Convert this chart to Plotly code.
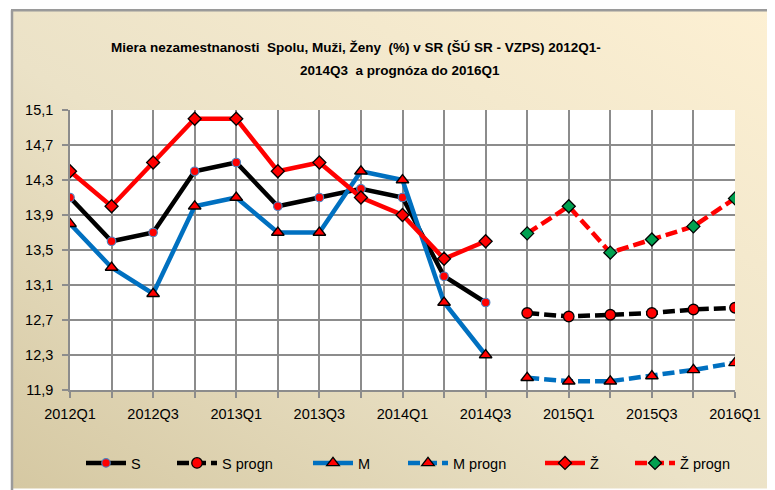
import base64
import plotly.graph_objects as go

# ---------------- data ----------------
categories = ["2012Q1", "2012Q2", "2012Q3", "2012Q4", "2013Q1", "2013Q2", "2013Q3", "2013Q4",
              "2014Q1", "2014Q2", "2014Q3", "2014Q4", "2015Q1", "2015Q2", "2015Q3", "2015Q4",
              "2016Q1"]
actual_periods = categories[:11]
forecast_periods = categories[11:]

s_values = [14.1, 13.6, 13.7, 14.4, 14.5, 14.0, 14.1, 14.2, 14.1, 13.2, 12.9]
s_progn = [12.78, 12.74, 12.76, 12.78, 12.82, 12.84]
m_values = [13.8, 13.3, 13.0, 14.0, 14.1, 13.7, 13.7, 14.4, 14.3, 12.9, 12.3]
m_progn = [12.04, 12.0, 12.0, 12.06, 12.13, 12.21]
z_values = [14.4, 14.0, 14.5, 15.0, 15.0, 14.4, 14.5, 14.1, 13.9, 13.4, 13.6]
z_progn = [13.69, 14.0, 13.47, 13.62, 13.77, 14.09]

tick_labels = categories[::2]
y_ticks = [11.9, 12.3, 12.7, 13.1, 13.5, 13.9, 14.3, 14.7, 15.1]

title_line1 = "Miera nezamestnanosti  Spolu, Muži, Ženy  (%) v SR (ŠÚ SR - VZPS) 2012Q1-"
title_line2 = "2014Q3  a prognóza do 2016Q1"

# ---------------- style ----------------
FONT = "Liberation Sans, Arial, sans-serif"
BLACK = "#000000"
BLUE = "#0070c0"
RED = "#ff0000"
GREEN = "#00a050"
GRID = "#8c8c8c"
LW = 4.5
DASH = "12px,5px"

OFF = 8  # page body margin
W, H = 775 - OFF, 490 - OFF
ML, MR, MT, MB = 70 - OFF, 40, 110 - OFF, 99
PW, PH = W - ML - MR, H - MT - MB


def px_x(px):
    """reference screenshot x pixel -> paper x"""
    return (px - OFF - ML) / PW


def px_y(py):
    """reference screenshot y pixel -> paper y"""
    return (H - MB - (py - OFF)) / PH


def keep_spaces(s):
    return s.replace("  ", "\u00a0\u00a0")


fig = go.Figure()

# legend slot (symbol-centre x in reference pixels) for each series
legend_x = {"S": 106, "S progn": 197, "M": 333, "M progn": 428, "Ž": 565, "Ž progn": 655}
legend_ids = {"S": "legend", "S progn": "legend2", "M": "legend3",
              "M progn": "legend4", "Ž": "legend5", "Ž progn": "legend6"}

fig.add_trace(go.Scatter(
    x=actual_periods, y=s_values, name="S", mode="lines+markers", legend=legend_ids["S"],
    line=dict(color=BLACK, width=LW),
    marker=dict(symbol="circle", size=8.5, color=RED, line=dict(color="#4f81bd", width=1.2))))
fig.add_trace(go.Scatter(
    x=forecast_periods, y=s_progn, name="S progn", mode="lines+markers", legend=legend_ids["S progn"],
    line=dict(color=BLACK, width=LW, dash=DASH),
    marker=dict(symbol="circle", size=10.5, color=RED, line=dict(color=BLACK, width=1.3))))
fig.add_trace(go.Scatter(
    x=actual_periods, y=m_values, name="M", mode="lines+markers", legend=legend_ids["M"],
    line=dict(color=BLUE, width=LW),
    marker=dict(symbol="triangle-up", size=11, color=RED, line=dict(color=BLACK, width=1.3))))
fig.add_trace(go.Scatter(
    x=forecast_periods, y=m_progn, name="M progn", mode="lines+markers", legend=legend_ids["M progn"],
    line=dict(color=BLUE, width=LW, dash=DASH),
    marker=dict(symbol="triangle-up", size=11, color=RED, line=dict(color=BLACK, width=1.3))))
fig.add_trace(go.Scatter(
    x=actual_periods, y=z_values, name="Ž", mode="lines+markers", legend=legend_ids["Ž"],
    line=dict(color=RED, width=LW),
    marker=dict(symbol="diamond", size=10, color=RED, line=dict(color=BLACK, width=1.3))))
fig.add_trace(go.Scatter(
    x=forecast_periods, y=z_progn, name="Ž progn", mode="lines+markers", legend=legend_ids["Ž progn"],
    line=dict(color=RED, width=LW, dash=DASH),
    marker=dict(symbol="diamond", size=10, color=GREEN, line=dict(color=BLACK, width=1.3))))

# background gradient (beige, darker at lower left)
svg = (
    '<svg xmlns="http://www.w3.org/2000/svg" width="763" height="480" viewBox="0 0 763 480" '
    'preserveAspectRatio="none">'
    '<defs><linearGradient id="g" x1="0" y1="1" x2="1" y2="0">'
    '<stop offset="0" stop-color="#d5c8a2"/>'
    '<stop offset="0.45" stop-color="#ebe2c7"/>'
    '<stop offset="1" stop-color="#fdf0d3"/>'
    '</linearGradient></defs>'
    '<rect width="763" height="480" fill="url(#g)"/></svg>'
)
src = "data:image/svg+xml;base64," + base64.b64encode(svg.encode()).decode()

fig.add_layout_image(dict(
    source=src, xref="paper", yref="paper",
    x=px_x(12), y=px_y(10), sizex=(775 - 12) / PW, sizey=(490 - 10) / PH,
    xanchor="left", yanchor="top", sizing="stretch", layer="below"))

shapes = [
    dict(type="rect", xref="paper", yref="paper", x0=0, x1=1, y0=0, y1=1,
         fillcolor="white", line=dict(width=0), layer="below"),
    dict(type="line", xref="paper", yref="paper", x0=px_x(11), x1=px_x(780),
         y0=px_y(10), y1=px_y(10), line=dict(color="#9a9a9a", width=2.5), layer="below"),
    dict(type="line", xref="paper", yref="paper", x0=px_x(12), x1=px_x(12),
         y0=px_y(10), y1=px_y(495), line=dict(color="#9a9a9a", width=2.5), layer="below"),
]

annotations = [
    dict(text="<b>" + keep_spaces(title_line1) + "</b>", xref="paper", yref="paper",
         x=px_x(356), y=px_y(47), showarrow=False, xanchor="center", yanchor="middle",
         font=dict(family=FONT, size=13.5, color="black")),
    dict(text="<b>" + keep_spaces(title_line2) + "</b>", xref="paper", yref="paper",
         x=px_x(400), y=px_y(70), showarrow=False, xanchor="center", yanchor="middle",
         font=dict(family=FONT, size=13.5, color="black")),
]

legend_common = dict(orientation="h", xanchor="left", yanchor="middle", y=px_y(463),
                     bgcolor="rgba(0,0,0,0)", font=dict(family=FONT, size=14.5),
                     itemwidth=40, borderwidth=0)
legend_layout = {}
for name, lid in legend_ids.items():
    legend_layout[lid] = dict(legend_common, x=px_x(legend_x[name] - 25))

fig.update_layout(
    width=W, height=H,
    margin=dict(l=ML, r=MR, t=MT, b=MB),
    paper_bgcolor="white",
    plot_bgcolor="rgba(0,0,0,0)",
    separators=", ",
    font=dict(family=FONT, size=14.5, color="black"),
    shapes=shapes,
    annotations=annotations,
    showlegend=True,
    **legend_layout,
)

fig.update_xaxes(
    type="category", categoryorder="array", categoryarray=categories,
    range=[0, len(categories) - 1],
    tickmode="array", tickvals=categories,
    ticktext=[c if c in tick_labels else "" for c in categories],
    showgrid=True, gridcolor=GRID, gridwidth=1.5,
    showline=True, linecolor=GRID, linewidth=1.5,
    ticks="outside", ticklen=6, tickwidth=1.5, tickcolor=GRID,
    tickfont=dict(family=FONT, size=14.5, color="black"),
    ticklabelstandoff=4,
    zeroline=False,
)
fig.update_yaxes(
    range=[y_ticks[0], y_ticks[-1]],
    tickmode="array", tickvals=y_ticks, tickformat=".1f",
    showgrid=True, gridcolor=GRID, gridwidth=1.5,
    showline=True, linecolor=GRID, linewidth=1.5,
    ticks="outside", ticklen=6, tickwidth=1.5, tickcolor=GRID,
    tickfont=dict(family=FONT, size=14.5, color="black"),
    ticklabelstandoff=6,
    zeroline=False,
)

fig.write_html("out.html")
